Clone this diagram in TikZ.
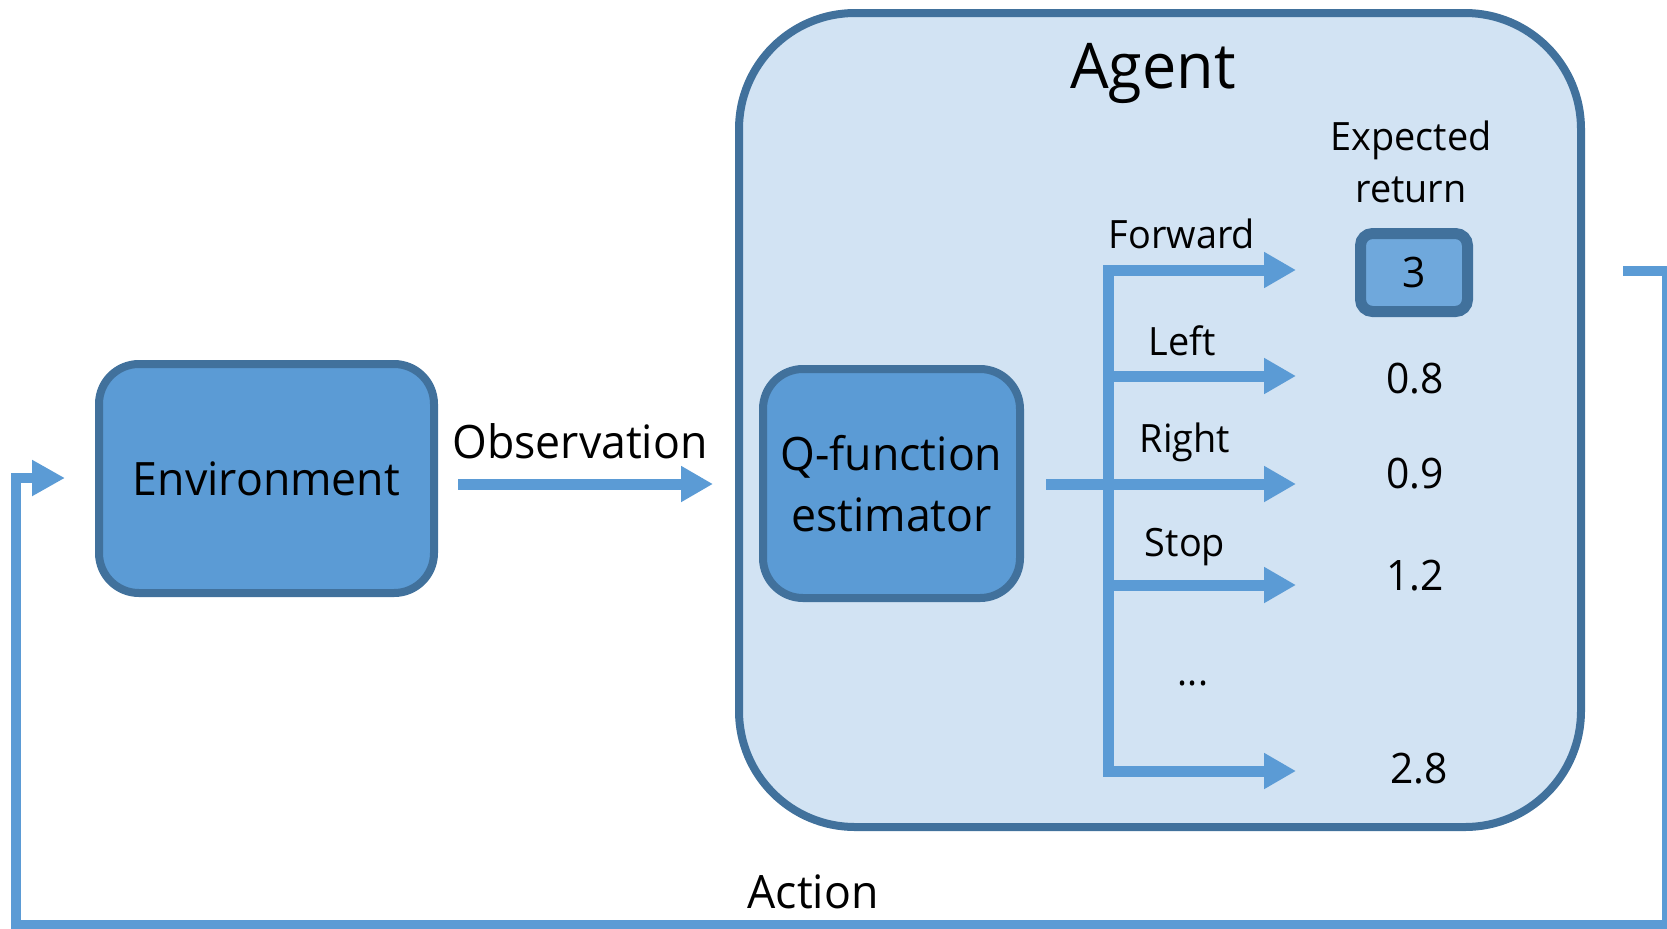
\documentclass[tikz,border=0pt]{standalone}
\usepackage{fontspec}
\setmainfont[FakeStretch=0.97]{Open Sans}
\usetikzlibrary{arrows.meta}
\definecolor{edge}{RGB}{65,113,156}
\definecolor{boxfill}{RGB}{91,155,213}
\definecolor{agentfill}{RGB}{210,227,243}
\definecolor{bestfill}{RGB}{111,168,220}
\definecolor{flow}{RGB}{91,155,213}
\begin{document}
\begin{tikzpicture}[x=0.5pt,y=-0.5pt,
  block/.style={draw=edge, fill=boxfill, line width=4pt, rounded corners=20pt,
    inner sep=0pt, font=\fontsize{23}{30.5}\selectfont, align=center},
  lbl/.style={inner sep=0pt, anchor=base, font=\fontsize{19.5}{26}\selectfont},
  val/.style={inner sep=0pt, anchor=base, font=\fontsize{21}{26}\selectfont},
  big/.style={inner sep=0pt, anchor=base, font=\fontsize{23}{30}\selectfont},
  flowline/.style={draw=flow, line width=5.5pt},
  flowarrow/.style={flowline, -{Triangle[length=16pt,width=17pt]}},
  loopline/.style={draw=flow, line width=5pt, -{Triangle[length=16.5pt,width=17pt]}},
]
\useasboundingbox (0,0) rectangle (1667,928);

% agent container
\node[draw=edge, fill=agentfill, line width=4pt, rounded corners=58pt,
  minimum width=421pt, minimum height=407pt, inner sep=0pt] (agent) at (1160,420) {};
\node[inner sep=0pt, anchor=base, font=\fontsize{31.5}{38}\selectfont] (title) at (1153,88) {Agent};

% main blocks
\node[block, minimum width=167.5pt, minimum height=114.5pt] (env) at (266.5,478.5) {Environment};
\node[block, minimum width=128.5pt, minimum height=114.5pt] (qfun) at (891.5,483.5) {Q-function\\estimator};

% observation arrow
\coordinate (obsS) at (458,484);
\coordinate (obsE) at (713,484);
\draw[flowarrow] (obsS) -- (obsE);
\node[big] (obs) at (580,458) {Observation};

% Q-function output and action bus
\coordinate (qout) at (1046,484);
\coordinate (b1) at (1108,270);
\coordinate (b2) at (1108,376);
\coordinate (b3) at (1108,484);
\coordinate (b4) at (1108,585);
\coordinate (b5) at (1108,771);
\coordinate (t1) at (1296,270);
\coordinate (t2) at (1296,376);
\coordinate (t3) at (1296,484);
\coordinate (t4) at (1296,585);
\coordinate (t5) at (1296,771);
\draw[flowline] (qout) -- (b3);
\draw[flowline, line cap=rect] (b1) -- (b5);
\foreach \i in {1,...,5} {\draw[flowarrow] (b\i) -- (t\i);}

% action labels
\node[lbl] (fwd) at (1182,248) {Forward};
\node[lbl] (lft) at (1182,355) {Left};
\node[lbl] (rgt) at (1185,452) {Right};
\node[lbl] (stp) at (1185,556) {Stop};
\node[lbl] (dots) at (1193,685) {...};

% expected returns
\node[lbl, align=center, font=\fontsize{19.5}{26}\selectfont] (exp) at (1411,202) {Expected\\return};
\node[draw=edge, fill=bestfill, line width=5.5pt, rounded corners=6pt,
  minimum width=53.5pt, minimum height=39pt, inner sep=0pt,
  font=\fontsize{21}{26}\selectfont] (q1) at (1414,272.5) {3};
\node[val] (q2) at (1415,393) {0.8};
\node[val] (q3) at (1415,488) {0.9};
\node[val] (q4) at (1415,590) {1.2};
\node[val] (q5) at (1419,783) {2.8};

% action feedback loop
\coordinate (actS) at (1623,271);
\coordinate (envIn) at (65,478);
\draw[loopline] (actS) -- (1667,271) -- (1667,925) -- (16,925) -- (16,478) -- (envIn);
\node[big] (act) at (813,908) {Action};
\end{tikzpicture}
\end{document}
